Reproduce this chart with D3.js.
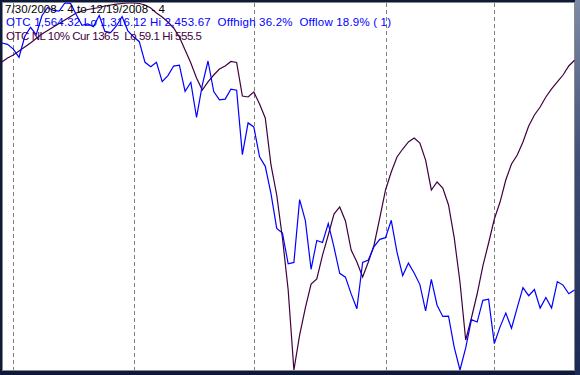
<!DOCTYPE html>
<html>
<head>
<meta charset="utf-8">
<script src="https://cdn.jsdelivr.net/npm/d3@7"></script>
<style>
  html, body { margin: 0; padding: 0; background: #0d1a3a; }
  svg { display: block; }
  text { font-family: 'Liberation Sans', Arial, sans-serif; font-size: 11.5px; }
</style>
</head>
<body>
<div id="chart"></div>
<script>
// trading days 7/30/2008 .. 12/19/2008
const dates = [
  '2008-07-30', '2008-07-31',
  '2008-08-01', '2008-08-04', '2008-08-05', '2008-08-06', '2008-08-07', '2008-08-08',
  '2008-08-11', '2008-08-12', '2008-08-13', '2008-08-14', '2008-08-15',
  '2008-08-18', '2008-08-19', '2008-08-20', '2008-08-21', '2008-08-22',
  '2008-08-25', '2008-08-26', '2008-08-27', '2008-08-28', '2008-08-29',
  '2008-09-02', '2008-09-03', '2008-09-04', '2008-09-05',
  '2008-09-08', '2008-09-09', '2008-09-10', '2008-09-11', '2008-09-12',
  '2008-09-15', '2008-09-16', '2008-09-17', '2008-09-18', '2008-09-19',
  '2008-09-22', '2008-09-23', '2008-09-24', '2008-09-25', '2008-09-26',
  '2008-09-29', '2008-09-30',
  '2008-10-01', '2008-10-02', '2008-10-03',
  '2008-10-06', '2008-10-07', '2008-10-08', '2008-10-09', '2008-10-10',
  '2008-10-13', '2008-10-14', '2008-10-15', '2008-10-16', '2008-10-17',
  '2008-10-20', '2008-10-21', '2008-10-22', '2008-10-23', '2008-10-24',
  '2008-10-27', '2008-10-28', '2008-10-29', '2008-10-30', '2008-10-31',
  '2008-11-03', '2008-11-04', '2008-11-05', '2008-11-06', '2008-11-07',
  '2008-11-10', '2008-11-11', '2008-11-12', '2008-11-13', '2008-11-14',
  '2008-11-17', '2008-11-18', '2008-11-19', '2008-11-20', '2008-11-21',
  '2008-11-24', '2008-11-25', '2008-11-26', '2008-11-28',
  '2008-12-01', '2008-12-02', '2008-12-03', '2008-12-04', '2008-12-05',
  '2008-12-08', '2008-12-09', '2008-12-10', '2008-12-11', '2008-12-12',
  '2008-12-15', '2008-12-16', '2008-12-17', '2008-12-18', '2008-12-19'
];

// OTC composite close
const otc = [
  2329.72, 2325.55,
  2310.96, 2285.56, 2349.83, 2378.37, 2355.73, 2414.10,
  2439.95, 2430.61, 2428.62, 2453.67, 2452.52,
  2416.98, 2384.36, 2389.08, 2380.38, 2414.71,
  2365.59, 2361.97, 2382.46, 2411.64, 2367.52,
  2349.24, 2333.73, 2269.76, 2255.88,
  2269.76, 2209.81, 2228.70, 2258.22, 2261.27,
  2179.91, 2207.90, 2098.85, 2199.10, 2273.90,
  2178.98, 2153.33, 2155.68, 2186.57, 2183.34,
  1983.73, 2082.00,
  2069.40, 1976.72, 1947.39,
  1862.96, 1754.88, 1740.33, 1645.12, 1649.51,
  1844.25, 1779.01, 1628.33, 1717.71, 1711.29,
  1770.03, 1696.68, 1615.75, 1603.91, 1552.03,
  1505.90, 1649.47, 1657.21, 1698.52, 1720.95,
  1726.33, 1780.12, 1681.64, 1608.70, 1647.40,
  1616.74, 1580.90, 1499.21, 1596.70, 1516.85,
  1482.05, 1483.27, 1386.42, 1316.12, 1384.35,
  1472.02, 1464.73, 1532.10, 1535.57,
  1398.07, 1449.80, 1492.38, 1445.56, 1509.31,
  1571.74, 1546.46, 1565.59, 1507.88, 1540.72,
  1508.34, 1589.89, 1579.31, 1552.37, 1564.32
];

// OTC new lows, 10% smoothing (plotted inverted)
const otcNL = [
  138.9, 133.5,
  129.4, 124.0, 118.6, 113.2, 107.1, 101.0,
  96.3, 91.6, 86.8, 82.1, 77.4,
  72.6, 69.9, 67.9, 66.5, 65.2,
  63.2, 61.8, 60.5, 59.8, 59.1,
  59.1, 59.8, 61.8, 65.9,
  72.6, 78.0, 84.8, 92.9, 105.1,
  122.7, 140.3, 160.5, 176.8, 165.9,
  156.5, 148.4, 144.3, 138.2, 139.6,
  184.9, 186.2,
  179.5, 195.7, 214.6,
  278.2, 318.8, 376.9, 447.3, 555.5,
  508.2, 471.6, 439.2, 432.4, 400.0,
  372.9, 344.5, 335.0, 353.9, 393.2,
  409.4, 429.7, 409.4, 386.4, 349.9,
  312.0, 287.7, 267.4, 256.6, 247.1,
  241.7, 248.5, 271.5, 312.0, 301.2,
  309.3, 332.3, 376.9, 436.5, 514.9,
  485.2, 452.7, 414.8, 383.7,
  351.3, 328.3, 298.5, 276.9, 264.7,
  247.1, 225.5, 210.6, 199.8, 186.2,
  175.4, 165.9, 156.5, 144.3, 136.5
];

const headerLines = [
  { text: '7/30/2008 - 4 to 12/19/2008 - 4', color: '#000000', len: 160 },
  { text: 'OTC 1,564.32 Lo 1,316.12 Hi 2,453.67  Offhigh 36.2%  Offlow 18.9% ( 1)', color: '#0000ff', len: 385 },
  { text: 'OTC NL 10% Cur 136.5  Lo 59.1 Hi 555.5', color: '#3f003f', len: 196 }
];

const W = 580, H = 375;
const plot = { left: 2, top: 2, right: 575, bottom: 371 };

const svg = d3.select('#chart').append('svg')
  .attr('width', W).attr('height', H);

const defs = svg.append('defs');
const grad = defs.append('linearGradient').attr('id', 'edge')
  .attr('x1', 0).attr('y1', 0).attr('x2', 0).attr('y2', 1);
grad.append('stop').attr('offset', '0%').attr('stop-color', '#7d8aa6');
grad.append('stop').attr('offset', '45%').attr('stop-color', '#3c4c74');
grad.append('stop').attr('offset', '100%').attr('stop-color', '#1a2a55');

// window frame
svg.append('rect').attr('width', W).attr('height', H).attr('fill', '#0d1a3a');
svg.append('rect').attr('x', 575).attr('y', 0).attr('width', 5).attr('height', H)
  .attr('fill', 'url(#edge)');
svg.append('rect')
  .attr('x', plot.left + 0.5).attr('y', plot.top + 0.5)
  .attr('width', plot.right - plot.left - 1).attr('height', plot.bottom - plot.top - 1)
  .attr('fill', '#ffffff').attr('stroke', '#8a8a8a');

const x = d3.scaleLinear().domain([0, dates.length - 1]).range([1.85, 574.5]);
const yOtc = d3.scaleLinear().domain(d3.extent(otc)).range([370, 3]);
const yNL = d3.scaleLinear().domain(d3.extent(otcNL)).range([3, 370]);

// month separators at first trading day of each month
const monthStarts = dates
  .map((d, i) => i)
  .filter((i) => i > 0 && dates[i].slice(5, 7) !== dates[i - 1].slice(5, 7));

svg.append('g')
  .selectAll('line')
  .data(monthStarts)
  .enter()
  .append('line')
  .attr('x1', (i) => Math.round(x(i)) + 0.5)
  .attr('x2', (i) => Math.round(x(i)) + 0.5)
  .attr('y1', 3)
  .attr('y2', 370)
  .attr('stroke', '#808080')
  .attr('stroke-width', 1)
  .attr('stroke-dasharray', '4,3');

svg.append('path')
  .datum(otcNL)
  .attr('fill', 'none')
  .attr('stroke', '#3f003f')
  .attr('stroke-width', 1.2)
  .attr('d', d3.line().x((d, i) => x(i)).y((d) => yNL(d)));

svg.append('path')
  .datum(otc)
  .attr('fill', 'none')
  .attr('stroke', '#0000ff')
  .attr('stroke-width', 1.2)
  .attr('d', d3.line().x((d, i) => x(i)).y((d) => yOtc(d)));

svg.append('g')
  .selectAll('text')
  .data(headerLines)
  .enter()
  .append('text')
  .attr('x', (d, i) => (i === 0 ? 5 : 6))
  .attr('y', (d, i) => 12.5 + i * 13.5)
  .attr('fill', (d) => d.color)
  .attr('textLength', (d) => d.len)
  .attr('lengthAdjust', 'spacing')
  .attr('xml:space', 'preserve')
  .style('white-space', 'pre')
  .text((d) => d.text);
</script>
</body>
</html>
